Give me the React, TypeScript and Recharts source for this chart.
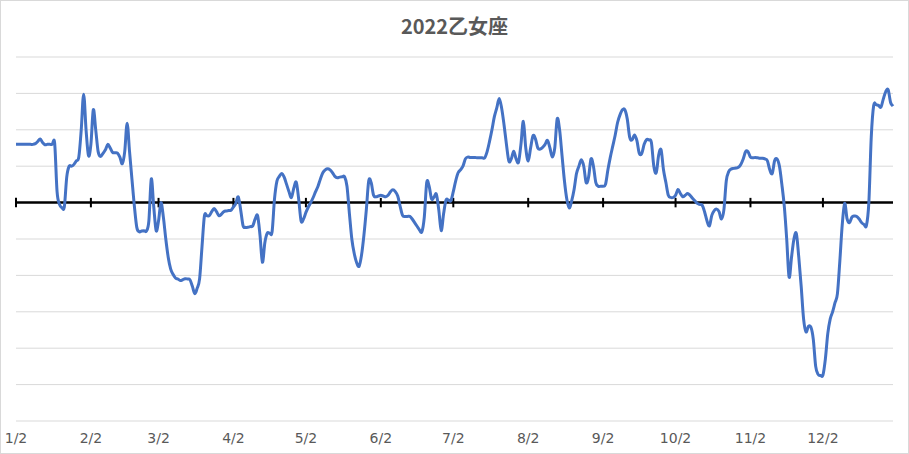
import React from 'react';
import { LineChart, Line, XAxis, YAxis, CartesianGrid, ReferenceLine } from 'recharts';

const title = '2022乙女座';

// daily values from 1/2 to 12/31
const values: number[] = [
  1.6, 1.6, 1.6, 1.6, 1.6, 1.6, 1.6, 1.6, 1.62, 1.68,
  1.75, 1.65, 1.59, 1.6, 1.6, 1.6, 1.63, 0.3, -0.05, -0.14,
  -0.12, 0.7, 1.0, 1.0, 1.05, 1.15, 1.25, 2.0, 2.98, 2.0,
  1.29, 1.6, 2.55, 2.0, 1.4, 1.27, 1.35, 1.45, 1.6, 1.5,
  1.38, 1.37, 1.36, 1.25, 1.07, 1.4, 2.18, 1.4, 0.64, -0.1,
  -0.68, -0.8, -0.78, -0.77, -0.78, -0.5, 0.65, -0.1, -0.77, -0.5,
  0.0, -0.4, -1.0, -1.5, -1.82, -1.97, -2.07, -2.1, -2.14, -2.12,
  -2.09, -2.1, -2.12, -2.3, -2.5, -2.35, -2.09, -1.2, -0.36, -0.36,
  -0.36, -0.25, -0.16, -0.25, -0.36, -0.32, -0.25, -0.23, -0.22, -0.21,
  -0.12, -0.02, 0.16, -0.2, -0.64, -0.68, -0.68, -0.66, -0.64, -0.45,
  -0.36, -0.9, -1.64, -1.1, -0.84, -0.84, -0.8, 0.1, 0.59, 0.72,
  0.8, 0.7, 0.5, 0.3, 0.14, 0.4, 0.56, 0.1, -0.5, -0.45,
  -0.27, -0.12, 0.0, 0.14, 0.3, 0.45, 0.65, 0.82, 0.9, 0.93,
  0.9, 0.82, 0.72, 0.68, 0.7, 0.71, 0.71, 0.45, -0.3, -1.0,
  -1.4, -1.65, -1.75, -1.45, -0.9, -0.2, 0.6, 0.55, 0.2, 0.16,
  0.18, 0.2, 0.18, 0.16, 0.2, 0.3, 0.35, 0.3, 0.18, -0.1,
  -0.35, -0.38, -0.38, -0.38, -0.45, -0.55, -0.65, -0.75, -0.8, -0.4,
  0.55, 0.45, 0.1, 0.15, 0.23, -0.2, -0.77, -0.3, 0.07, 0.07,
  0.05, 0.3, 0.6, 0.82, 0.9, 1.0, 1.2, 1.25, 1.24, 1.24,
  1.24, 1.23, 1.23, 1.23, 1.23, 1.4, 1.68, 2.0, 2.36, 2.6,
  2.86, 2.6, 2.14, 1.6, 1.14, 1.2, 1.41, 1.2, 1.11, 1.6,
  2.23, 1.5, 1.14, 1.5, 1.84, 1.75, 1.5, 1.47, 1.52, 1.6,
  1.71, 1.5, 1.25, 1.5, 2.3, 2.0, 1.3, 0.6, 0.09, -0.15,
  0.05, 0.36, 0.8, 1.0, 1.18, 1.0, 0.55, 0.7, 1.2, 1.0,
  0.55, 0.45, 0.45, 0.45, 0.5, 0.9, 1.25, 1.55, 1.85, 2.2,
  2.41, 2.55, 2.55, 2.3, 1.8, 1.72, 1.86, 1.7, 1.35, 1.35,
  1.6, 1.73, 1.72, 1.65, 1.0, 0.82, 1.3, 1.45, 0.9, 0.55,
  0.2, 0.14, 0.14, 0.2, 0.36, 0.25, 0.16, 0.2, 0.25, 0.2,
  0.12, 0.05, -0.02, -0.05, -0.07, -0.25, -0.5, -0.64, -0.35, -0.22,
  -0.18, -0.25, -0.45, -0.2, 0.6, 0.85, 0.92, 0.94, 0.95, 0.97,
  1.05, 1.2, 1.4, 1.4, 1.25, 1.23, 1.24, 1.23, 1.22, 1.22,
  1.2, 1.15, 0.9, 0.8, 1.15, 1.2, 1.0, 0.5, -0.1, -1.0,
  -2.05, -1.5, -1.0, -0.85, -1.5, -2.3, -3.2, -3.55, -3.4, -3.42,
  -3.75, -4.5, -4.72, -4.75, -4.74, -4.3, -3.6, -3.2, -3.0, -2.75,
  -2.5, -1.6, -0.6, -0.02, -0.45, -0.55, -0.4, -0.37, -0.38, -0.45,
  -0.55, -0.6, -0.63, 0.0, 1.8, 2.67, 2.69, 2.67, 2.62, 2.85,
  3.05, 3.1, 2.75, 2.65,
];

const monthTicks: string[] = ['1/2', '2/2', '3/2', '4/2', '5/2', '6/2', '7/2', '8/2', '9/2', '10/2', '11/2', '12/2'];
const yTicks: number[] = [-6, -5, -4, -3, -2, -1, 0, 1, 2, 3, 4];

const dates: string[] = values.map((_, i) => {
  const d = new Date(2022, 0, 2 + i);
  return `${d.getMonth() + 1}/${d.getDate()}`;
});

const data = values.map((v, i) => ({ date: dates[i], value: v }));

// Catmull-Rom style smoothing (similar to Excel's smoothed line)
function smoothCurve(context: any) {
  let pts: [number, number][] = [];
  return {
    areaStart() {},
    areaEnd() {},
    lineStart() {
      pts = [];
    },
    point(x: number, y: number) {
      pts.push([+x, +y]);
    },
    lineEnd() {
      if (!pts.length) return;
      context.moveTo(pts[0][0], pts[0][1]);
      for (let i = 0; i < pts.length - 1; i++) {
        const p0 = pts[i - 1] || pts[i];
        const p1 = pts[i];
        const p2 = pts[i + 1];
        const p3 = pts[i + 2] || p2;
        const c1x = p1[0] + (p2[0] - p0[0]) / 6;
        const c1y = p1[1] + (p2[1] - p0[1]) / 6;
        const c2x = p2[0] - (p3[0] - p1[0]) / 6;
        const c2y = p2[1] - (p3[1] - p1[1]) / 6;
        context.bezierCurveTo(c1x, c1y, c2x, c2y, p2[0], p2[1]);
      }
    },
  };
}

export default function App() {
  return (
    <div style={{ position: 'absolute', left: 0, top: 0, width: 909, height: 454, background: '#fff' }}>
      <LineChart width={909} height={454} data={data} margin={{ top: 57, right: 16, bottom: 0, left: 16 }}>
        <CartesianGrid vertical={false} stroke="#d9d9d9" strokeWidth={1} />
        <XAxis
          dataKey="date"
          ticks={monthTicks}
          interval={0}
          axisLine={false}
          tickLine={false}
          height={33}
          tickMargin={6}
          tick={{ fill: '#595959', fontSize: 14, fontFamily: 'DejaVu Sans' }}
        />
        <YAxis hide type="number" domain={[-6, 4]} ticks={yTicks} />
        <ReferenceLine y={0} stroke="#000" strokeWidth={2.5} />
        {monthTicks.map((t) => (
          <ReferenceLine key={t} segment={[{ x: t, y: -0.13 }, { x: t, y: 0.13 }]} stroke="#000" strokeWidth={2} />
        ))}
        <Line type={smoothCurve as any} dataKey="value" stroke="#4472C4" strokeWidth={3} dot={false} isAnimationActive={false} />
      </LineChart>
      <div
        style={{
          position: 'absolute',
          left: 0,
          top: 13,
          width: 909,
          textAlign: 'center',
          fontFamily: '"Noto Sans CJK JP", "Noto Sans", sans-serif',
          fontWeight: 'bold',
          fontSize: 20,
          lineHeight: '26px',
          color: '#595959',
        }}
      >
        {title}
      </div>
      <div
        style={{
          position: 'absolute',
          left: 0,
          top: 0,
          width: 909,
          height: 454,
          boxSizing: 'border-box',
          border: '1px solid #d9d9d9',
          pointerEvents: 'none',
        }}
      />
    </div>
  );
}
